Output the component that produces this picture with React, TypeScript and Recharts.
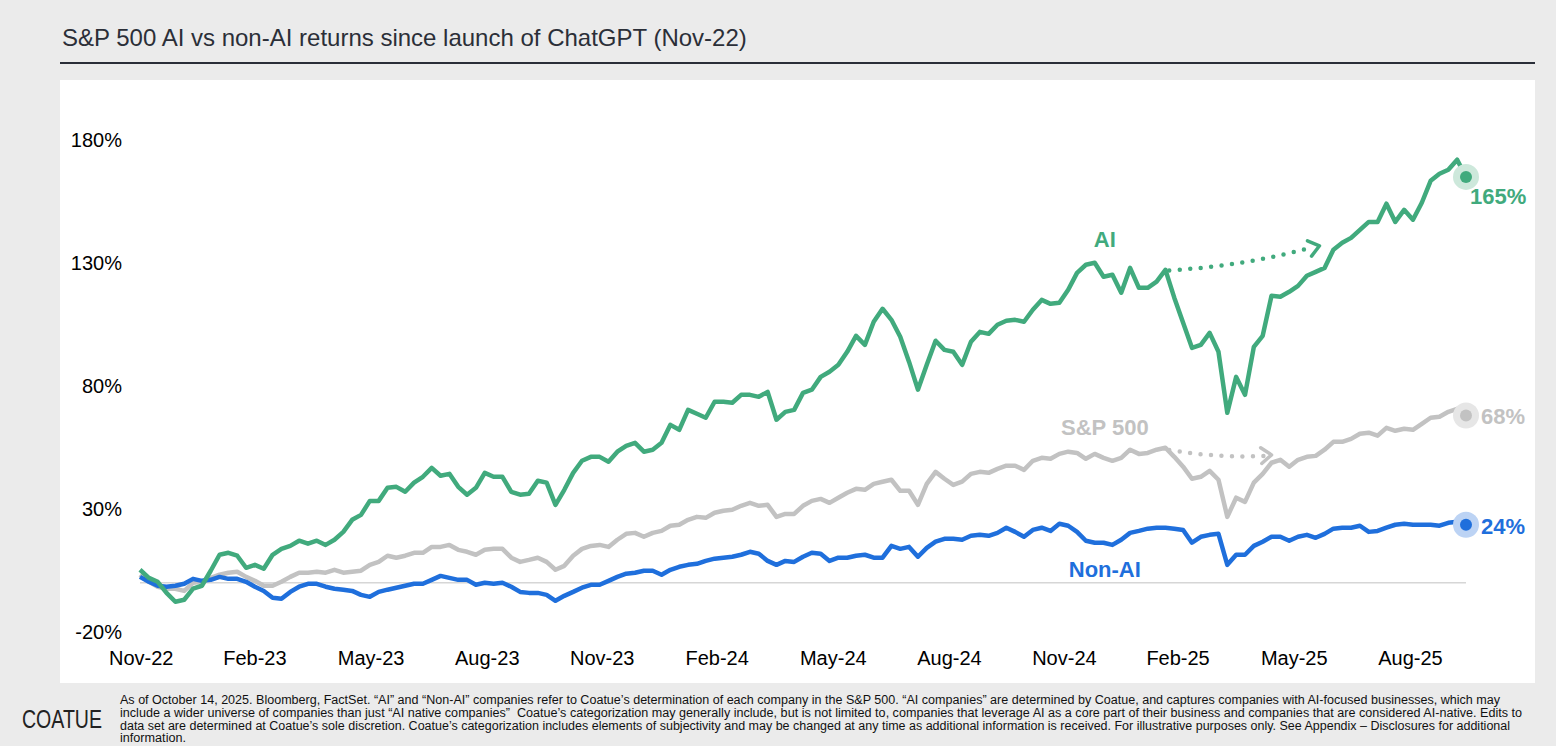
import { LineChart, Line, XAxis, YAxis, ReferenceLine, ReferenceDot } from "recharts";

const DAY = 86400000;
const START = Date.UTC(2022, 10, 29);
const END = Date.UTC(2025, 9, 14);

// weekly observation dates, Nov 29 2022 -> Oct 14 2025
const weekDates = Array.from({ length: 151 }, (_, i) => START + i * 7 * DAY);

// cumulative returns (%)
const aiReturns = [
  5.3, 2.0, 0.4, -4.1, -7.7, -6.9, -2.4, -1.2, 4.9, 11.4,
  12.2, 11.0, 6.1, 7.3, 5.7, 11.4, 13.8, 15.0, 17.1, 15.9,
  17.1, 15.4, 17.5, 20.7, 25.6, 27.6, 33.3, 33.3, 38.6, 39.0,
  37.0, 40.7, 43.1, 46.7, 43.5, 44.3, 39.0, 35.8, 38.6, 44.7,
  43.1, 43.1, 37.0, 35.8, 36.2, 41.5, 40.7, 31.7, 37.8, 44.7,
  49.6, 51.2, 51.2, 49.2, 53.3, 55.7, 56.9, 53.3, 54.1, 56.9,
  64.2, 62.2, 70.3, 68.7, 67.1, 73.6, 73.6, 73.2, 76.4, 76.4,
  75.6, 77.6, 66.3, 69.5, 70.3, 77.2, 78.5, 83.7, 85.8, 88.6,
  93.9, 100.4, 96.7, 106.1, 111.4, 106.9, 100.0, 89.8, 78.5, 88.6,
  98.4, 94.7, 93.9, 88.6, 98.0, 102.0, 101.2, 104.9, 106.5, 106.9,
  106.1, 111.0, 115.0, 113.4, 113.8, 119.1, 126.0, 129.3, 130.1, 124.4,
  125.2, 117.9, 128.0, 119.9, 119.9, 122.4, 127.2, 115.9, 105.7, 95.5,
  96.7, 101.6, 93.9, 69.1, 83.7, 76.4, 95.9, 100.4, 116.7, 116.3,
  118.3, 120.7, 124.8, 126.4, 128.0, 135.4, 138.2, 140.2, 143.5, 146.7,
  146.7, 154.1, 146.7, 151.6, 147.6, 154.5, 163.4, 166.3, 167.9, 172.0,
  165.0,
];

const sp500Returns = [
  3.3, 0.4, -1.6, -2.4, -2.4, -3.3, 0.0, 0.4, 2.0, 3.3,
  4.1, 4.5, 2.4, 0.8, -1.2, -1.2, 0.4, 2.4, 4.1, 4.1,
  4.5, 4.1, 5.3, 4.1, 4.5, 4.9, 7.3, 8.5, 11.0, 10.2,
  11.0, 12.2, 12.2, 14.6, 14.6, 15.4, 13.4, 12.6, 11.4, 13.4,
  13.8, 13.8, 10.2, 8.5, 9.3, 10.2, 8.5, 5.3, 6.9, 11.0,
  13.8, 15.0, 15.4, 14.6, 17.5, 19.9, 20.3, 18.7, 20.3, 21.1,
  23.2, 23.6, 25.6, 26.8, 26.4, 28.5, 29.3, 29.7, 31.3, 32.5,
  31.3, 31.7, 26.8, 28.0, 28.0, 31.3, 33.3, 34.1, 32.5, 34.6,
  36.6, 38.2, 37.8, 40.2, 41.1, 41.9, 37.4, 37.4, 31.7, 40.2,
  45.1, 42.3, 39.8, 41.1, 44.3, 45.1, 44.7, 46.3, 47.6, 47.6,
  45.9, 49.6, 50.8, 50.4, 52.4, 53.3, 52.8, 50.4, 52.4, 50.8,
  49.6, 50.8, 54.1, 52.4, 52.8, 54.1, 54.9, 51.2, 47.2, 42.3,
  43.1, 45.5, 41.9, 26.8, 34.6, 32.9, 40.7, 44.3, 48.8, 50.0,
  47.2, 50.0, 51.2, 51.6, 54.1, 57.3, 57.3, 58.5, 60.6, 61.0,
  59.8, 63.0, 61.8, 62.6, 62.2, 64.6, 67.1, 67.5, 69.5, 70.7,
  68.0,
];

const nonAiReturns = [
  2.4, 0.4, -1.2, -1.6, -1.2, -0.4, 1.6, 0.8, 1.2, 2.4,
  1.6, 1.6, 0.4, -1.6, -3.3, -6.1, -6.5, -3.7, -1.6, -0.4,
  -0.4, -1.6, -2.4, -2.8, -3.3, -4.9, -5.7, -3.7, -2.8, -2.0,
  -1.2, -0.4, -0.4, 1.2, 2.8, 2.0, 1.2, 1.2, -0.8, 0.0,
  -0.4, 0.0, -1.6, -3.7, -4.1, -4.1, -4.9, -7.3, -5.3, -3.7,
  -2.0, -0.8, -0.8, 0.8, 2.4, 3.7, 4.1, 4.9, 4.9, 3.3,
  5.3, 6.5, 7.3, 7.7, 8.9, 9.8, 10.2, 10.6, 11.4, 12.6,
  11.8, 8.9, 7.3, 8.9, 8.5, 10.6, 12.2, 11.8, 8.9, 10.2,
  10.2, 11.0, 11.4, 10.2, 10.2, 15.0, 13.8, 14.6, 10.6, 14.2,
  16.7, 17.9, 17.9, 17.5, 19.1, 19.5, 19.1, 20.3, 22.4, 20.7,
  18.7, 21.5, 22.4, 21.1, 24.0, 23.2, 20.7, 17.1, 16.3, 16.3,
  15.4, 17.5, 20.3, 21.1, 22.0, 22.4, 22.4, 22.0, 21.5, 16.3,
  18.7, 19.5, 19.9, 7.3, 11.4, 11.4, 15.0, 16.7, 18.7, 18.7,
  17.1, 18.7, 19.5, 18.3, 19.9, 22.0, 22.4, 22.4, 23.2, 20.7,
  21.1, 22.4, 23.6, 24.0, 23.6, 23.6, 23.6, 23.2, 24.4, 24.8,
  23.6,
];

const tickDates = [
  "2022-11-30", "2023-02-28", "2023-05-31", "2023-08-31", "2023-11-30", "2024-02-29",
  "2024-05-31", "2024-08-31", "2024-11-30", "2025-02-28", "2025-05-31", "2025-08-31",
];
const tickLabels = [
  "Nov-22", "Feb-23", "May-23", "Aug-23", "Nov-23", "Feb-24",
  "May-24", "Aug-24", "Nov-24", "Feb-25", "May-25", "Aug-25",
];
const yTicks = [-20, 30, 80, 130, 180];

const footerLines = [
  "As of October 14, 2025. Bloomberg, FactSet. \u201CAI\u201D and \u201CNon-AI\u201D companies refer to Coatue\u2019s determination of each company in the S&P 500. \u201CAI companies\u201D are determined by Coatue, and captures companies with AI-focused businesses, which may",
  "include a wider universe of companies than just \u201CAI native companies\u201D  Coatue\u2019s categorization may generally include, but is not limited to, companies that leverage AI as a core part of their business and companies that are considered AI-native. Edits to",
  "data set are determined at Coatue\u2019s sole discretion. Coatue\u2019s categorization includes elements of subjectivity and may be changed at any time as additional information is received. For illustrative purposes only. See Appendix \u2013 Disclosures for additional",
  "information.",
];
const footerWidths = [1380, 1402, 1390, 66];

const GREEN = "#41aa7d";
const GRAY = "#c2c2c2";
const BLUE = "#1f6fdc";
const FONT = "'Liberation Sans', Arial, sans-serif";

const ts = (d: string) => Date.parse(d + "T00:00:00Z");
const tickTimes = tickDates.map(ts);

const rows = weekDates.map((t, i) => ({
  t,
  ai: aiReturns[i],
  sp: sp500Returns[i],
  nonAi: nonAiReturns[i],
}));

const last = rows.length - 1;

const dottedArrow = (color: string, sag: number) => (p: any) => {
  const { x1, y1, x2, y2 } = p;
  const cx = (x1 + x2) / 2;
  const cy = (y1 + y2) / 2 + sag;
  const ang = Math.atan2(y2 - cy, x2 - cx);
  const len = 13;
  const spread = 0.65;
  const ax = x2 - len * Math.cos(ang - spread);
  const ay = y2 - len * Math.sin(ang - spread);
  const bx = x2 - len * Math.cos(ang + spread);
  const by = y2 - len * Math.sin(ang + spread);
  return (
    <g>
      <path
        d={`M${x1},${y1} Q${cx},${cy} ${x2 - 6},${y2 + 1}`}
        fill="none"
        stroke={color}
        strokeWidth={4.5}
        strokeDasharray="0 10.5"
        strokeLinecap="round"
      />
      <path
        d={`M${ax},${ay} L${x2},${y2} L${bx},${by}`}
        fill="none"
        stroke={color}
        strokeWidth={3.5}
        strokeLinecap="round"
        strokeLinejoin="round"
      />
    </g>
  );
};

const seriesLabel = (text: string, color: string) => (p: any) => (
  <text
    x={p.cx}
    y={p.cy}
    textAnchor="middle"
    dominantBaseline="central"
    fill={color}
    fontSize={22}
    fontWeight="bold"
    fontFamily={FONT}
  >
    {text}
  </text>
);

const endLabel = (value: number, color: string, dx: number, dy: number) => (p: any) => (
  <text
    x={p.cx + dx}
    y={p.cy + dy}
    textAnchor="start"
    dominantBaseline="central"
    fill={color}
    fontSize={22}
    fontWeight="bold"
    fontFamily={FONT}
  >
    {`${Math.round(value)}%`}
  </text>
);

export default function App() {
  return (
    <div
      style={{
        position: "absolute",
        left: 0,
        top: 0,
        width: 1556,
        height: 746,
        background: "#ebebeb",
        fontFamily: FONT,
        overflow: "hidden",
      }}
    >
      <div
        style={{
          position: "absolute",
          left: 62,
          top: 26,
          fontSize: 24,
          lineHeight: "24px",
          color: "#2b2f38",
          whiteSpace: "nowrap",
        }}
      >
        S&amp;P 500 AI vs non-AI returns since launch of ChatGPT (Nov-22)
      </div>
      <div style={{ position: "absolute", left: 60, top: 62, width: 1475, height: 2, background: "#2a2e38" }} />

      <div style={{ position: "absolute", left: 60, top: 80, width: 1475, height: 603, background: "#fff" }}>
        <LineChart width={1475} height={603} data={rows} margin={{ top: 60, right: 69, bottom: 11, left: 0 }}>
          <XAxis
            dataKey="t"
            type="number"
            domain={[START, END]}
            ticks={tickTimes}
            tickFormatter={(v: number) => tickLabels[tickTimes.indexOf(v)] ?? ""}
            axisLine={false}
            tickLine={false}
            tickSize={0}
            tickMargin={19}
            height={40}
            interval={0}
            tick={{ fill: "#000", fontSize: 20, fontFamily: FONT }}
          />
          <YAxis
            type="number"
            domain={[-20, 180]}
            ticks={yTicks}
            tickFormatter={(v: number) => `${v}%`}
            axisLine={false}
            tickLine={false}
            tickSize={0}
            tickMargin={18}
            width={80}
            interval={0}
            tick={{ fill: "#000", fontSize: 20, fontFamily: FONT }}
          />
          <ReferenceLine y={0} stroke="#d6d6d6" strokeWidth={1.5} />

          <Line type="linear" dataKey="sp" stroke={GRAY} strokeWidth={4.5} dot={false} isAnimationActive={false} strokeLinejoin="round" />
          <Line type="linear" dataKey="nonAi" stroke={BLUE} strokeWidth={4.5} dot={false} isAnimationActive={false} strokeLinejoin="round" />
          <Line type="linear" dataKey="ai" stroke={GREEN} strokeWidth={4.5} dot={false} isAnimationActive={false} strokeLinejoin="round" />

          <ReferenceLine
            segment={[{ x: ts("2025-02-21"), y: 127 }, { x: ts("2025-06-20"), y: 137 }]}
            shape={dottedArrow(GREEN, 8)}
          />
          <ReferenceLine
            segment={[{ x: ts("2025-02-21"), y: 54 }, { x: ts("2025-05-13"), y: 52 }]}
            shape={dottedArrow(GRAY, 6)}
          />

          <ReferenceDot x={ts("2025-01-01")} y={139.4} r={0} shape={seriesLabel("AI", GREEN)} />
          <ReferenceDot x={ts("2025-01-01")} y={63} r={0} shape={seriesLabel("S&P 500", GRAY)} />
          <ReferenceDot x={ts("2025-01-01")} y={5.3} r={0} shape={seriesLabel("Non-AI", BLUE)} />

          <ReferenceDot x={rows[last].t} y={rows[last].ai} r={13} fill="#cde8db" stroke="none" />
          <ReferenceDot x={rows[last].t} y={rows[last].ai} r={6} fill={GREEN} stroke="none" />
          <ReferenceDot x={rows[last].t} y={rows[last].sp} r={13} fill="#e6e6e6" stroke="none" />
          <ReferenceDot x={rows[last].t} y={rows[last].sp} r={6} fill={GRAY} stroke="none" />
          <ReferenceDot x={rows[last].t} y={rows[last].nonAi} r={13} fill="#bcd3f4" stroke="none" />
          <ReferenceDot x={rows[last].t} y={rows[last].nonAi} r={6} fill={BLUE} stroke="none" />

          <ReferenceDot x={rows[last].t} y={rows[last].ai} r={0} shape={endLabel(rows[last].ai, GREEN, 4, 20)} />
          <ReferenceDot x={rows[last].t} y={rows[last].sp} r={0} shape={endLabel(rows[last].sp, GRAY, 15, 1)} />
          <ReferenceDot x={rows[last].t} y={rows[last].nonAi} r={0} shape={endLabel(rows[last].nonAi, BLUE, 15, 2)} />
        </LineChart>
      </div>

      <svg style={{ position: "absolute", left: 0, top: 683 }} width={1556} height={63}>
        <text x={22} y={45} fontSize={25} fill="#222" fontFamily={FONT} textLength={80} lengthAdjust="spacingAndGlyphs">
          COATUE
        </text>
        {footerLines.map((line, i) => (
          <text
            key={i}
            x={120}
            y={21 + i * 12.8}
            fontSize={12}
            fill="#111"
            fontFamily="'Liberation Sans Narrow', 'Arial Narrow', 'Liberation Sans', sans-serif"
            textLength={footerWidths[i]}
            lengthAdjust="spacingAndGlyphs"
            xmlSpace="preserve"
          >
            {line}
          </text>
        ))}
      </svg>
    </div>
  );
}
